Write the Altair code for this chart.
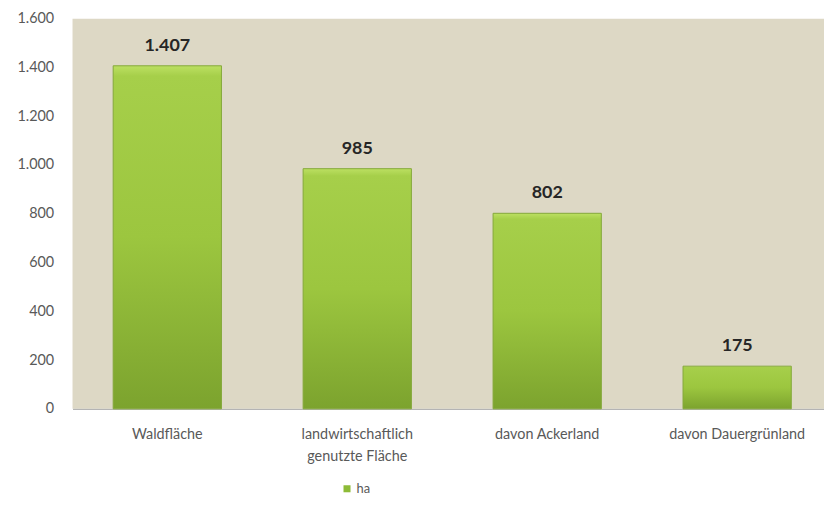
import altair as alt
import pandas as pd

categories = ["Waldfläche", "landwirtschaftlich genutzte Fläche", "davon Ackerland", "davon Dauergrünland"]
values = [1407, 985, 802, 175]
series = ["ha"] * 4

df = pd.DataFrame({"Kategorie": categories, "Wert": values, "Serie": series})

FONT = "Lato"

x_enc = alt.X(
    "Kategorie:N", sort=categories, title=None,
    scale=alt.Scale(paddingInner=0.43, paddingOuter=0.214, range=[0, 765]),
    axis=alt.Axis(
        labelAngle=0, ticks=False, domain=True, domainColor="#A6A6A6", domainWidth=1,
        labelColor="#595959", labelFontSize=14.5, labelFont=FONT, labelPadding=19,
        labelLineHeight=22, labelLimit=220,
        labelExpr="datum.label == 'landwirtschaftlich genutzte Fläche' ? ['landwirtschaftlich', 'genutzte Fläche'] : datum.label",
    ),
)
y_enc = alt.Y(
    "Wert:Q", title=None,
    scale=alt.Scale(domain=[0, 1600]),
    axis=alt.Axis(
        values=[0, 200, 400, 600, 800, 1000, 1200, 1400, 1600],
        grid=False, ticks=False, domain=False,
        labelColor="#595959", labelFontSize=14.5, labelFont=FONT, labelPadding=19,
        labelExpr="replace(format(datum.value, ','), ',', '.')",
    ),
)

gradient = alt.Gradient(
    gradient="linear", x1=0, x2=0, y1=0, y2=1,
    stops=[
        alt.GradientStop(color="#BCE062", offset=0),
        alt.GradientStop(color="#A6CF4A", offset=0.03),
        alt.GradientStop(color="#9CC63F", offset=0.5),
        alt.GradientStop(color="#7CA32E", offset=1),
    ],
)

bars = alt.Chart(df).mark_bar(fill=gradient, stroke="#84A83A", strokeWidth=1).encode(x=x_enc, y=y_enc)

legend_layer = alt.Chart(df).mark_bar(opacity=0).encode(
    x=x_enc, y=y_enc,
    color=alt.Color(
        "Serie:N", scale=alt.Scale(range=["#8DBB37"]),
        legend=alt.Legend(
            title=None, orient="none", legendX=270, legendY=467,
            symbolType="square", symbolSize=50, symbolOpacity=1,
            labelFont=FONT, labelFontSize=13, labelColor="#595959", labelOffset=3,
        ),
    ),
)

labels = alt.Chart(df).transform_calculate(
    lab="replace(format(datum.Wert, ','), ',', '.')"
).mark_text(
    dy=-11, baseline="bottom", fontWeight="bold", fontSize=18, font=FONT, color="#262626"
).encode(x=alt.X("Kategorie:N", sort=categories), y="Wert:Q", text="lab:N")

chart = alt.layer(bars, legend_layer, labels).properties(
    width=757, height=393,
    autosize=alt.AutoSizeParams(type="none"),
    padding={"left": 65, "top": 9, "right": 0, "bottom": 88},
    background="white",
).configure_view(fill="#DDD8C5", stroke=None)

chart.save("out.html", embed_options={"renderer": "svg", "actions": False})
